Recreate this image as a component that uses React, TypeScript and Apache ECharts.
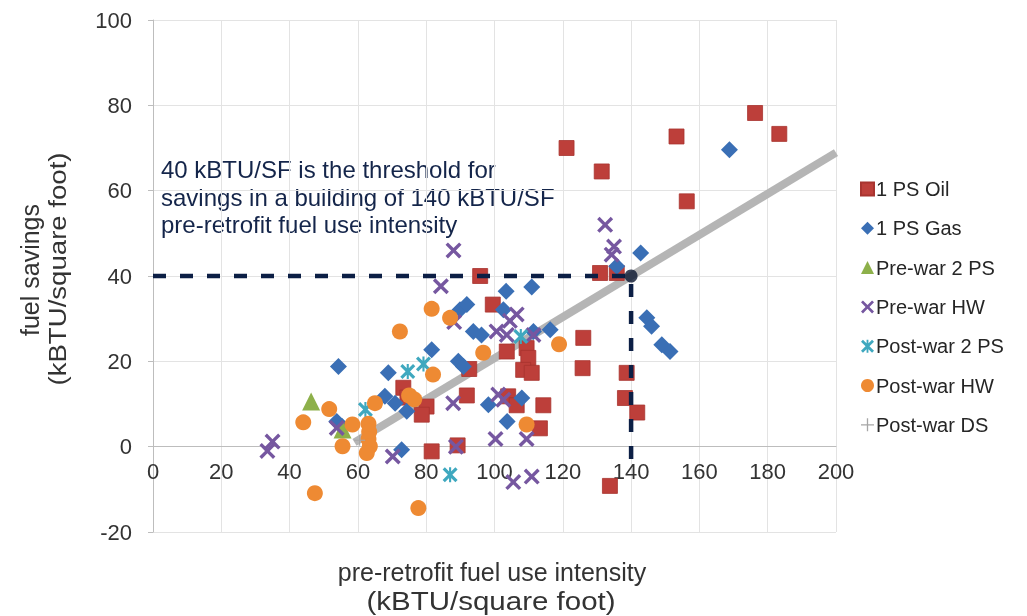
import React, { useEffect, useRef } from "react";
import * as echarts from "echarts";

const xTicks = [0, 20, 40, 60, 80, 100, 120, 140, 160, 180, 200];
const yTicks = [-20, 0, 20, 40, 60, 80, 100];

const onePsOil = [
  [121.1, 70.0], [131.4, 64.5], [153.3, 72.7], [176.3, 78.2], [183.4, 73.3], [156.3, 57.5],
  [130.9, 40.7], [135.8, 40.7], [95.8, 40.0], [99.5, 33.3], [126.0, 25.5], [125.8, 18.4],
  [103.6, 22.3], [109.4, 23.1], [109.9, 20.8], [108.4, 18.0], [110.9, 17.3], [92.6, 18.2],
  [91.9, 12.0], [104.0, 11.8], [106.5, 9.7], [114.3, 9.7], [113.3, 4.3], [73.3, 13.8],
  [74.5, 11.5], [80.1, 9.4], [78.7, 7.5], [81.6, -1.1], [89.2, 0.3], [133.8, -9.2],
  [138.7, 17.3], [138.2, 11.4], [141.8, 8.0],
];
const onePsGas = [
  [168.8, 69.6], [142.8, 45.4], [135.8, 42.3], [110.9, 37.4], [144.6, 30.2], [146.0, 28.2],
  [149.0, 23.9], [151.4, 22.3], [116.3, 27.4], [111.4, 27.0], [103.4, 36.4], [89.9, 32.1],
  [91.9, 33.3], [93.8, 27.0], [96.2, 26.2], [102.6, 32.1], [81.6, 22.7], [89.4, 20.0],
  [90.9, 18.8], [98.2, 9.8], [108.0, 11.4], [103.7, 5.9], [54.3, 18.8], [68.9, 17.3],
  [67.9, 11.8], [70.9, 10.2], [74.3, 8.3], [72.8, -0.7], [53.8, 5.9], [55.3, 4.8],
];
const preWar2Ps = [[46.3, 10.6], [55.5, 4.0]];
const preWarHw = [
  [33.5, -1.0], [35.0, 1.2], [53.8, 4.4], [70.2, -2.3], [88.0, 46.0], [84.3, 37.6],
  [88.2, 29.2], [100.6, 27.0], [103.6, 26.2], [106.5, 31.0], [104.5, 29.5], [111.4, 26.2],
  [87.9, 10.2], [101.1, 12.2], [102.6, 11.0], [100.3, 1.8], [109.4, 1.8], [88.7, 0.0],
  [105.5, -8.3], [110.9, -7.0], [132.4, 52.0], [135.0, 46.9], [134.3, 45.0],
];
const postWar2Ps = [[62.2, 8.7], [74.6, 17.6], [79.2, 19.4], [107.7, 25.8], [87.0, -6.6]];
const postWarHw = [
  [44.0, 5.7], [51.6, 8.8], [58.4, 5.2], [55.5, 0.1], [63.1, 5.4], [63.3, 3.5],
  [63.1, 1.8], [63.5, 0.1], [62.6, -1.5], [65.0, 10.2], [72.3, 27.0], [81.6, 32.3],
  [87.0, 30.2], [82.0, 16.9], [75.0, 12.0], [76.5, 11.1], [96.7, 22.0], [109.4, 5.2],
  [118.9, 24.0], [47.4, -10.9], [77.7, -14.4],
];
const postWarDs = [[60.5, 1.5]];
const trendLine = [[59, 1.0], [200, 68.9]];
const thresholdPath = [[0, 40], [140, 40], [140, -3.5]];
const thresholdPoint = [[140, 40]];

const seriesNames = ["1 PS Oil", "1 PS Gas", "Pre-war 2 PS", "Pre-war HW", "Post-war 2 PS", "Post-war HW", "Post-war DS"];

const X_PATH = "path://M0,1.5L1.5,0L5,3.5L8.5,0L10,1.5L6.5,5L10,8.5L8.5,10L5,6.5L1.5,10L0,8.5L3.5,5Z";
const STAR_PATH = "path://M0,1.5L1.5,0L5,3.5L8.5,0L10,1.5L6.5,5L10,8.5L8.5,10L5,6.5L1.5,10L0,8.5L3.5,5ZM4.3,0L5.7,0L5.7,10L4.3,10Z";
const PLUS_PATH = "path://M4.5,0L5.5,0L5.5,4.5L10,4.5L10,5.5L5.5,5.5L5.5,10L4.5,10L4.5,5.5L0,5.5L0,4.5L4.5,4.5Z";

const FONT = "'Liberation Sans', Arial, sans-serif";

export default function App() {
  const ref = useRef<HTMLDivElement>(null);
  useEffect(() => {
    if (!ref.current) return;
    const chart = echarts.init(ref.current, null, { renderer: "svg" });
    const sc = (name: string, data: number[][], symbol: string, size: number, color: string, border?: string) => ({
      name,
      type: "scatter",
      data,
      symbol,
      symbolSize: size,
      z: 3,
      itemStyle: { color, opacity: 1, borderColor: border || color, borderWidth: border ? 0.8 : 0 },
    });
    const gridH = 616 - 20 - 84;
    const zeroOffset = -(gridH * (0 - yTicks[0])) / (yTicks[yTicks.length - 1] - yTicks[0]);
    chart.setOption({
      animation: false,
      textStyle: { fontFamily: FONT },
      grid: { left: 153, right: 191, top: 20, bottom: 84, containLabel: false },
      xAxis: {
        type: "value",
        min: xTicks[0],
        max: xTicks[xTicks.length - 1],
        interval: 20,
        position: "bottom",
        offset: zeroOffset,
        axisLine: { onZero: false, lineStyle: { color: "#bdbdbd", width: 1 } },
        axisTick: { show: false },
        axisLabel: { fontSize: 22, color: "#333", margin: 14, fontFamily: FONT },
        splitLine: { show: true, lineStyle: { color: "#e3e3e3", width: 1 } },
      },
      yAxis: {
        type: "value",
        min: yTicks[0],
        max: yTicks[yTicks.length - 1],
        interval: 20,
        axisLine: { show: true, lineStyle: { color: "#bdbdbd", width: 1 } },
        axisTick: { show: true, length: 5, lineStyle: { color: "#bdbdbd" } },
        axisLabel: { fontSize: 22, color: "#333", margin: 21, fontFamily: FONT },
        splitLine: { show: true, lineStyle: { color: "#e3e3e3", width: 1 } },
      },
      legend: {
        data: seriesNames,
        orient: "vertical",
        left: 855,
        top: 174,
        itemWidth: 13,
        itemHeight: 13,
        itemGap: 19.3,
        textStyle: { fontSize: 20, color: "#262626", fontFamily: FONT, padding: [0, 0, 0, -3] },
      },
      graphic: [
        {
          type: "text",
          left: 161,
          top: 156,
          style: {
            text: "40 kBTU/SF is the threshold for\nsavings in a building of 140 kBTU/SF\npre-retrofit fuel use intensity",
            font: `24px ${FONT}`,
            fill: "#14254a",
            lineHeight: 27.5,
          },
        },
        {
          type: "text",
          x: 30,
          y: 270,
          rotation: Math.PI / 2,
          style: { text: "fuel savings", font: `25px ${FONT}`, fill: "#333", align: "center", verticalAlign: "middle" },
        },
        {
          type: "text",
          x: 58,
          y: 269,
          rotation: Math.PI / 2,
          scaleX: 1.15,
          style: { text: "(kBTU/square foot)", font: `24px ${FONT}`, fill: "#333", align: "center", verticalAlign: "middle" },
        },
        {
          type: "text",
          x: 492,
          y: 572,
          style: { text: "pre-retrofit fuel use intensity", font: `25px ${FONT}`, fill: "#333", align: "center", verticalAlign: "middle" },
        },
        {
          type: "text",
          x: 491,
          y: 601,
          scaleX: 1.18,
          style: { text: "(kBTU/square foot)", font: `25px ${FONT}`, fill: "#333", align: "center", verticalAlign: "middle" },
        },
      ],
      series: [
        {
          name: "trend",
          type: "line",
          data: trendLine,
          symbol: "none",
          silent: true,
          z: 1,
          lineStyle: { color: "#b5b5b5", width: 8, cap: "butt" },
        },
        sc(seriesNames[0], onePsOil, "rect", 15, "#bd3f3a", "#a8342f"),
        sc(seriesNames[1], onePsGas, "diamond", 17, "#3a6fb5"),
        sc(seriesNames[2], preWar2Ps, "triangle", 18, "#8db04a"),
        sc(seriesNames[3], preWarHw, X_PATH, 16, "#7657a0"),
        sc(seriesNames[4], postWar2Ps, STAR_PATH, 15, "#3fa8bf"),
        sc(seriesNames[5], postWarHw, "circle", 16, "#ee8a33"),
        sc(seriesNames[6], postWarDs, PLUS_PATH, 11, "#a6a6a6"),
        {
          name: "threshold",
          type: "line",
          data: thresholdPath,
          symbol: "none",
          silent: true,
          z: 5,
          lineStyle: { color: "#0c1f45", width: 4.5, type: [13, 14] },
        },
        {
          name: "thresholdPoint",
          type: "scatter",
          data: thresholdPoint,
          symbol: "circle",
          symbolSize: 13,
          silent: true,
          z: 6,
          itemStyle: { color: "#0a1530" },
        },
      ],
    });
    return () => chart.dispose();
  }, []);
  return <div ref={ref} style={{ position: "fixed", left: 0, top: 0, width: 1027, height: 616 }} />;
}
